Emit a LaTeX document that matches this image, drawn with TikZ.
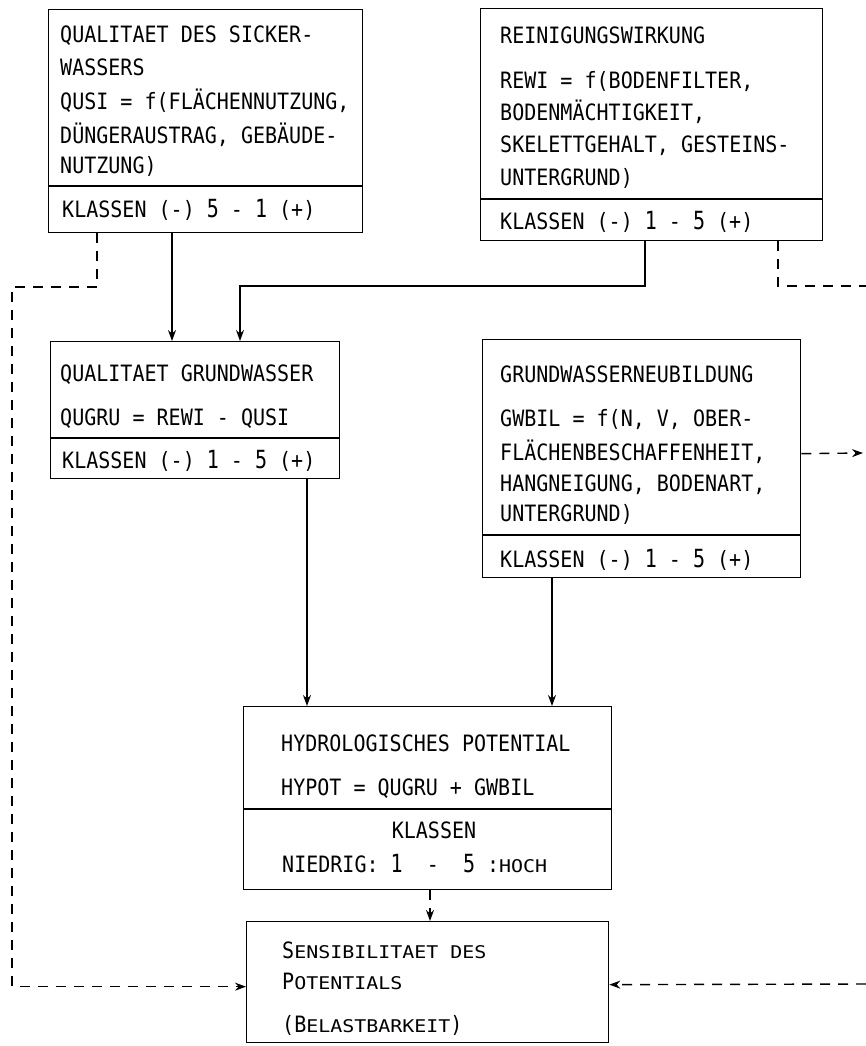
\documentclass[tikz,border=0pt]{standalone}
\usepackage{fontspec}
\usetikzlibrary{arrows.meta}
\newfontfamily\mono[FakeStretch=0.89]{DejaVu Sans Mono}
\newfontfamily\monosc[FakeStretch=1.14]{DejaVu Sans Mono}
\newfontfamily\monodig[FakeStretch=0.8]{DejaVu Sans Mono}
\newcommand{\smc}[1]{{\fontsize{17.5}{17.5}\monosc #1}}
\newcommand{\dg}[1]{{\fontsize{25}{25}\monodig #1}}
\begin{document}
\begin{tikzpicture}[x=1pt,y=-1pt,
  box/.style={draw, line width=1.3pt, inner sep=0pt, anchor=north west},
  divline/.style={line width=1.3pt},
  txt/.style={anchor=base west, inner sep=0pt, font=\fontsize{22.5}{22.5}\mono},
  conn/.style={line width=1.1pt},
  arr/.style={conn, -{Stealth[length=11pt,width=8pt]}},
  dsh/.style={conn, line width=1.4pt, dash pattern=on 10pt off 8pt},
  darr/.style={dsh, -{Stealth[length=11pt,width=8pt]}}]
\useasboundingbox (0,0) rectangle (866,1046);
% boxes
\node[box, minimum width=314pt, minimum height=223pt] (b1) at (48,9) {};
\node[box, minimum width=342pt, minimum height=232pt] (b2) at (480,8) {};
\node[box, minimum width=289pt, minimum height=137pt] (qugru) at (50,341) {};
\node[box, minimum width=318pt, minimum height=238pt] (gwbil) at (482,339) {};
\node[box, minimum width=368pt, minimum height=183pt] (hypot) at (243,706) {};
\node[box, minimum width=362pt, minimum height=121pt] (sens) at (246,921) {};
% dividers
\draw[divline] ([yshift=-177pt]b1.north west) -- ([yshift=-177pt]b1.north east);
\draw[divline] ([yshift=-191pt]b2.north west) -- ([yshift=-191pt]b2.north east);
\draw[divline] ([yshift=-97pt]qugru.north west) -- ([yshift=-97pt]qugru.north east);
\draw[divline] ([yshift=-196pt]gwbil.north west) -- ([yshift=-196pt]gwbil.north east);
\draw[divline] ([yshift=-103pt]hypot.north west) -- ([yshift=-103pt]hypot.north east);
% texts box 1
\node[txt] (t1a) at (60,43) {QUALITAET DES SICKER-};
\node[txt] (t1b) at (60,76) {WASSERS};
\node[txt] (t1c) at (60,110) {QUSI = f(FLÄCHENNUTZUNG,};
\node[txt] (t1d) at (60,143) {DÜNGERAUSTRAG, GEBÄUDE-};
\node[txt] (t1e) at (60,173) {NUTZUNG)};
\node[txt] (t1f) at (62,217) {KLASSEN (-) \dg{5} - \dg{1} (+)};
% box 2
\node[txt] (t2a) at (500,44) {REINIGUNGSWIRKUNG};
\node[txt] (t2b) at (500,89) {REWI = f(BODENFILTER,};
\node[txt] (t2c) at (500,121) {BODENMÄCHTIGKEIT,};
\node[txt] (t2d) at (500,153) {SKELETTGEHALT, GESTEINS-};
\node[txt] (t2e) at (500,185) {UNTERGRUND)};
\node[txt] (t2f) at (500,229) {KLASSEN (-) \dg{1} - \dg{5} (+)};
% qugru
\node[txt] (t3a) at (60,381) {QUALITAET GRUNDWASSER};
\node[txt] (t3b) at (60,425) {QUGRU = REWI - QUSI};
\node[txt] (t3c) at (62,468) {KLASSEN (-) \dg{1} - \dg{5} (+)};
% gwbil
\node[txt] (t4a) at (500,382) {GRUNDWASSERNEUBILDUNG};
\node[txt] (t4b) at (500,426) {GWBIL = f(N, V, OBER-};
\node[txt] (t4c) at (500,460) {FLÄCHENBESCHAFFENHEIT,};
\node[txt] (t4d) at (500,491) {HANGNEIGUNG, BODENART,};
\node[txt] (t4e) at (500,521) {UNTERGRUND)};
\node[txt] (t4f) at (500,567) {KLASSEN (-) \dg{1} - \dg{5} (+)};
% hypot
\node[txt] (t5a) at (281,751) {HYDROLOGISCHES POTENTIAL};
\node[txt] (t5b) at (281,795) {HYPOT = QUGRU + GWBIL};
\node[txt, anchor=base] (t5c) at (434,838) {KLASSEN};
\node[txt] (t5d) at (282,872) {NIEDRIG:~\dg{1}~~-~~\dg{5}~:\smc{HOCH}};
% sens
\node[txt] (t6a) at (282,958) {S\smc{ENSIBILITAET DES}};
\node[txt] (t6b) at (282,989) {P\smc{OTENTIALS}};
\node[txt] (t6c) at (282,1032) {(B\smc{ELASTBARKEIT})};
% connectors
\draw[darr] ([xshift=49pt]b1.south west) |- (12,287) |- ([yshift=-4.5pt]sens.west);
\draw[arr] ([xshift=124pt]b1.south west) -- ([xshift=122pt]qugru.north west);
\draw[arr] ([xshift=165pt]b2.south west) |- (240,286) -- ([xshift=190pt]qugru.north west);
\draw[dsh] ([xshift=298pt]b2.south west) |- (866,286);
\draw[arr] ([xshift=257pt]qugru.south west) -- ([xshift=64pt]hypot.north west);
\draw[arr] ([xshift=70pt]gwbil.south west) -- ([xshift=309pt]hypot.north west);
\draw[darr] ([yshift=5pt]gwbil.east) -- (863,453);
\draw[darr] ([xshift=187pt]hypot.south west) -- ([xshift=184pt]sens.north west);
\draw[darr] (866,984) -- ([yshift=-2.5pt]sens.east);
\end{tikzpicture}
\end{document}
